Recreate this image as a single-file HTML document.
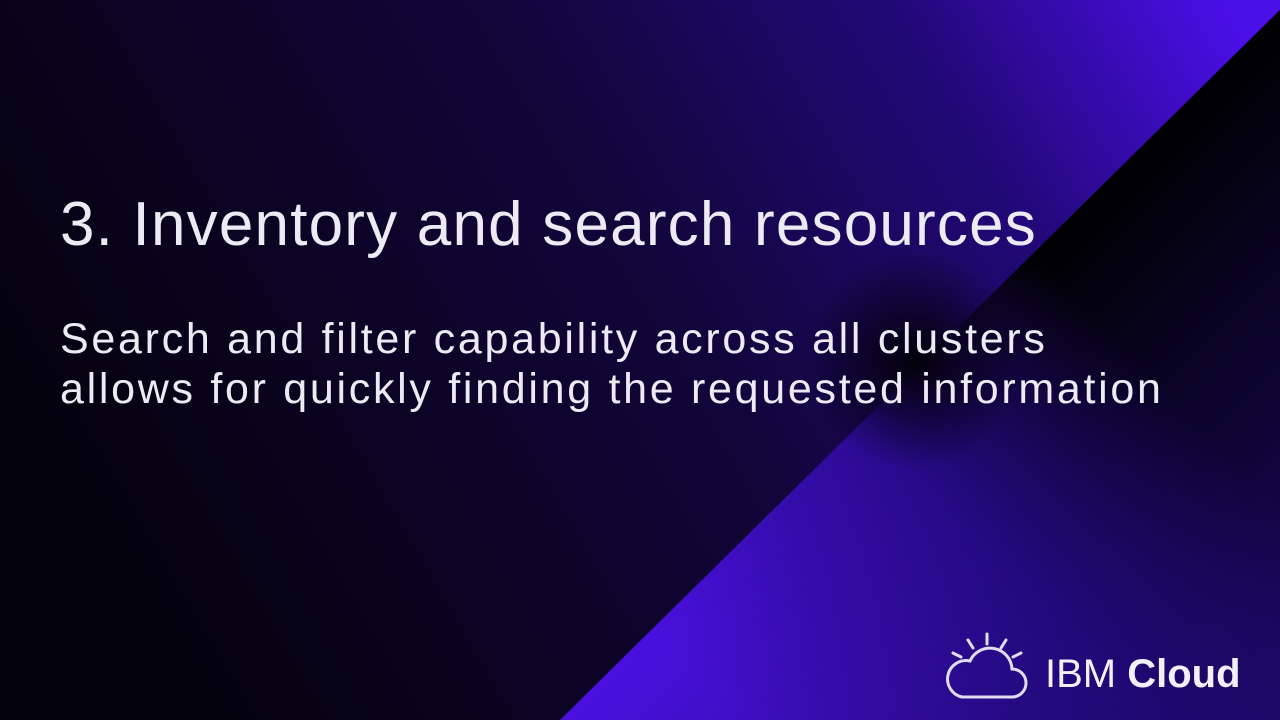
<!DOCTYPE html>
<html><head><style>
html,body{margin:0;padding:0;width:1280px;height:720px;overflow:hidden;background:#0a0420;}
.t{position:absolute;left:60px;color:#ecebf3;font-family:"Liberation Sans","DejaVu Sans",sans-serif;white-space:nowrap;}
</style></head><body>
<svg width="1280" height="720" style="position:absolute;left:0;top:0">
<defs>
<linearGradient id="ul" x1="150" y1="650" x2="1230" y2="20" gradientUnits="userSpaceOnUse">
<stop offset="0" stop-color="#04020c"/>
<stop offset="0.5" stop-color="#12053a"/>
<stop offset="0.78" stop-color="#220878"/>
<stop offset="1" stop-color="#4a0ee6"/>
</linearGradient>
<linearGradient id="lr" x1="680" y1="660" x2="1060" y2="280" gradientUnits="userSpaceOnUse">
<stop offset="0" stop-color="#4a10e0"/>
<stop offset="0.55" stop-color="#2a0a90"/>
<stop offset="1" stop-color="#000000"/>
</linearGradient>
<linearGradient id="lr2" x1="800" y1="480" x2="1150" y2="830" gradientUnits="userSpaceOnUse">
<stop offset="0" stop-color="#1a0866" stop-opacity="0"/>
<stop offset="1" stop-color="#1c0868" stop-opacity="0.9"/>
</linearGradient>
<radialGradient id="dk" cx="915" cy="360" r="110" gradientUnits="userSpaceOnUse">
<stop offset="0" stop-color="#000" stop-opacity="0.9"/>
<stop offset="1" stop-color="#000" stop-opacity="0"/>
</radialGradient>
</defs>
<polygon points="0,0 1280,0 1280,10 560,720 0,720" fill="url(#ul)"/>
<polygon points="1280,10 1280,720 560,720" fill="url(#lr)"/>
<polygon points="1280,10 1280,720 560,720" fill="url(#lr2)"/>
<ellipse cx="915" cy="360" rx="110" ry="110" fill="url(#dk)"/>
<g fill="none" stroke="#e0dcf5" stroke-width="3" stroke-linecap="round">
<path d="M962,697 h50 a14,14 0 0 0 0,-28 a22,22 0 0 0 -42,-8 a17,17 0 0 0 -8,36 z"/>
<line x1="987" y1="634" x2="987" y2="644"/>
<line x1="968" y1="640" x2="973" y2="648"/>
<line x1="1006" y1="640" x2="1001" y2="648"/>
<line x1="953" y1="653" x2="961" y2="657"/>
<line x1="1021" y1="653" x2="1013" y2="657"/>
</g>
</svg>
<div class="t" style="top:189px;font-size:62px;letter-spacing:1.2px;">3. Inventory and search resources</div>
<div class="t" style="top:314px;font-size:43px;line-height:50px;letter-spacing:2.7px;">Search and filter capability across all clusters<br>allows for quickly finding the requested information</div>
<div class="t" style="left:1045px;top:652px;font-size:40px;color:#f2f0fa;">IBM <b>Cloud</b></div>
</body></html>
